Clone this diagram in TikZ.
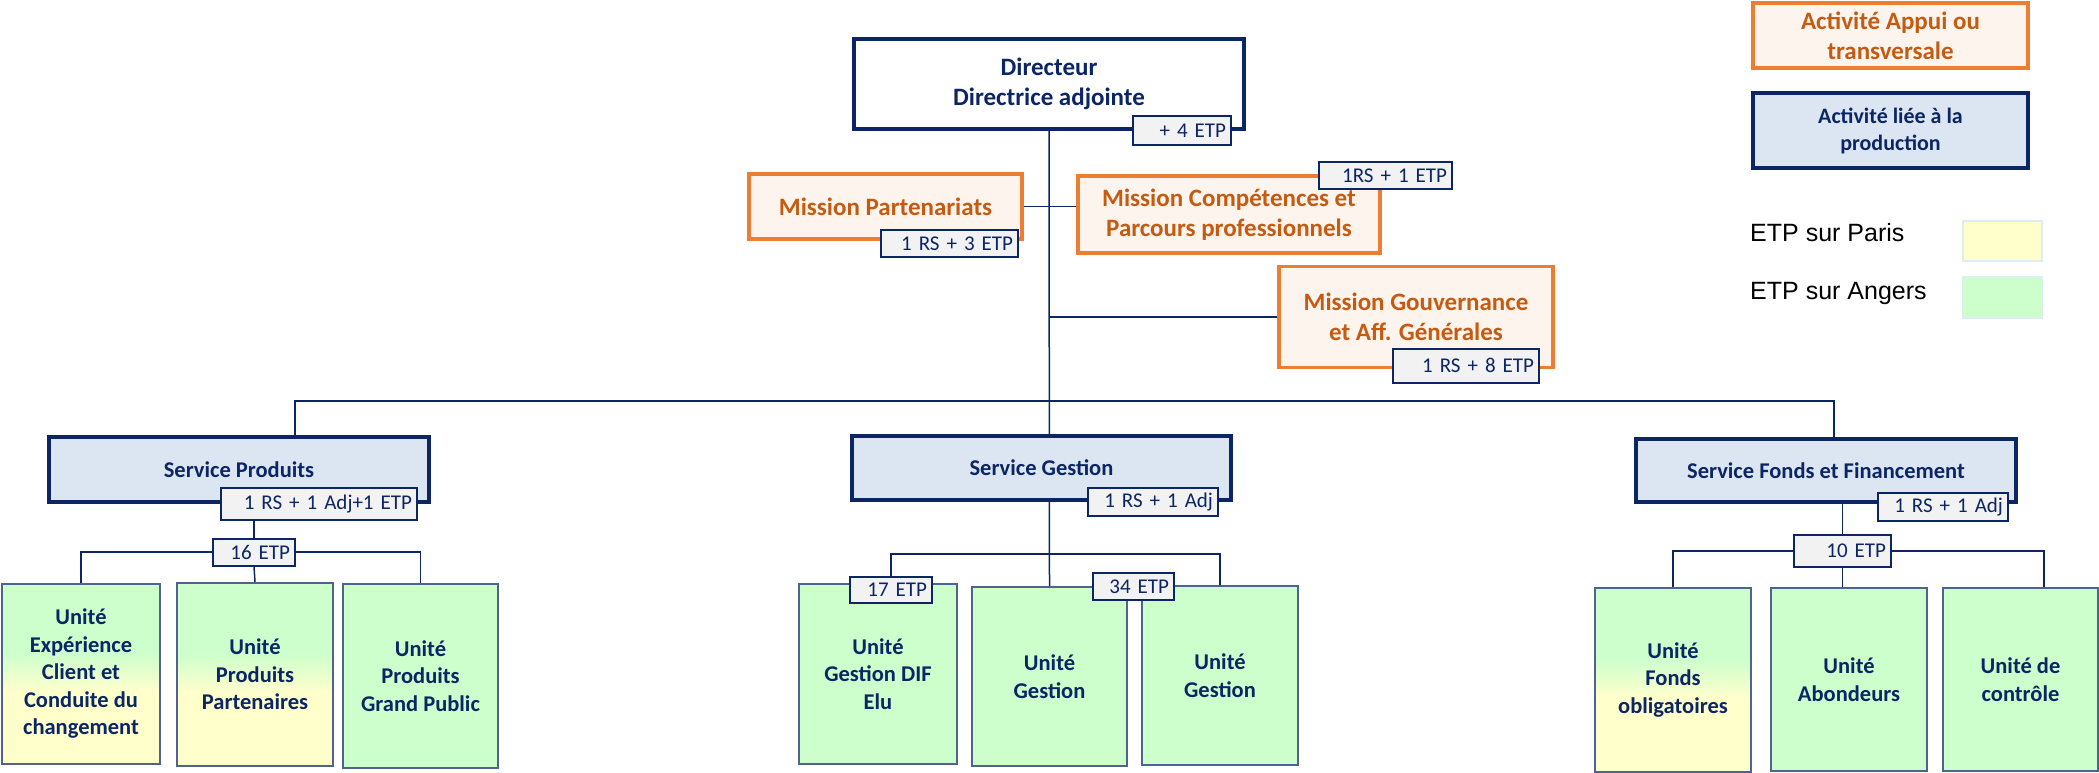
\documentclass[tikz,border=0pt]{standalone}
\usepackage{fontspec}
\setmainfont{Carlito}
\newfontfamily\legfont{Liberation Sans}
\usepackage{tikz}
\usetikzlibrary{positioning,backgrounds}
\definecolor{navy}{HTML}{0B2565}
\definecolor{orangeb}{HTML}{ED7D31}
\definecolor{oranget}{HTML}{C55A11}
\definecolor{orangef}{HTML}{FDF4EE}
\definecolor{bluef}{HTML}{DCE6F2}
\definecolor{tagf}{HTML}{F2F2F2}
\definecolor{greenf}{HTML}{CCFFCC}
\definecolor{yellowf}{HTML}{FFFFCC}
\definecolor{unitb}{HTML}{4F6290}
\definecolor{swatchb}{HTML}{DDEEEE}
\pgfdeclareverticalshading{parisangers}{100bp}{color(0bp)=(yellowf); color(45bp)=(yellowf); color(56bp)=(greenf); color(100bp)=(greenf)}

\begin{document}
\begin{tikzpicture}[x=1pt, y=-1pt,
  chef/.style    = {rectangle, draw=navy, line width=4, fill=white, text=navy,
                    align=center, font=\bfseries\fontsize{25}{30}\selectfont},
  mission/.style = {rectangle, draw=orangeb, line width=3.5, fill=orangef, text=oranget,
                    align=center, font=\bfseries\fontsize{25}{30}\selectfont},
  service/.style = {rectangle, draw=navy, line width=4.5, fill=bluef, text=navy,
                    align=center, font=\bfseries\fontsize{22.5}{27}\selectfont},
  unite/.style   = {rectangle, draw=unitb, line width=1.8, fill=greenf, text=navy,
                    align=center, font=\bfseries\fontsize{22.5}{27.5}\selectfont},
  mixte/.style   = {unite, shade, shading=parisangers},
  tag/.style     = {rectangle, draw=navy, line width=2, fill=tagf, text=navy, align=right,
                    inner xsep=5, inner ysep=0, font=\fontsize{21}{21}\selectfont},
  legende/.style = {font=\legfont\fontsize{25}{30}\selectfont, anchor=west, inner sep=0},
  swatch/.style  = {rectangle, draw=swatchb, line width=1.5, minimum width=79, minimum height=40},
  lien/.style    = {draw=navy, line width=1.5},
]
  \useasboundingbox (0,0) rectangle (2099,773);

  % direction et missions
  \node[chef, minimum width=390, minimum height=90] (dir) at (1049,84)
    {Directeur\\Directrice adjointe};
  \node[tag, text width=88, minimum height=29] (tdir) at (1182,130.5) {+ 4 ETP};

  \node[mission, minimum width=273, minimum height=65] (mpart) at (885.5,206.5)
    {Mission Partenariats};
  \node[tag, text width=127, minimum height=27] (tpart) at (949.5,243.5) {1 RS + 3 ETP};
  \node[mission, minimum width=302, minimum height=77] (mcomp) at (1229,214.5)
    {Mission Compétences et\\Parcours professionnels};
  \node[tag, text width=123, minimum height=27] (tcomp) at (1385.5,175.5) {1RS + 1 ETP};
  \node[mission, minimum width=274, minimum height=101] (mgouv) at (1416,317)
    {Mission Gouvernance\\et Aff. Générales};
  \node[tag, text width=136, minimum height=34] (tgouv) at (1466,365.5) {1 RS + 8 ETP};

  % service produits
  \node[service, minimum width=380, minimum height=65] (sprod) at (239,469.5) {Service Produits};
  \node[tag, text width=186, minimum height=32] (tprod) at (319,504) {1 RS + 1 Adj+1 ETP};
  \node[tag, text width=72, minimum height=27] (t16) at (254,552) {16 ETP};
  \node[mixte, minimum width=158, minimum height=180] (u1) at (81,674)
    {Unité\\Expérience\\Client et\\Conduite du\\changement};
  \node[mixte, minimum width=156, minimum height=183] (u2) at (255,674.5)
    {Unité\\Produits\\Partenaires};
  \node[unite, minimum width=155, minimum height=184] (u3) at (420.5,676)
    {Unité\\Produits\\Grand Public};

  % service gestion
  \node[service, minimum width=379, minimum height=64] (sgest) at (1041.5,468) {Service Gestion};
  \node[tag, text width=120, minimum height=28] (tgest) at (1153,502) {1 RS + 1 Adj};
  \node[unite, minimum width=158, minimum height=180] (g1) at (878,674)
    {Unité\\Gestion DIF\\Elu};
  \node[unite, minimum width=155, minimum height=179] (g2) at (1049.5,676.5)
    {Unité\\Gestion};
  \node[unite, minimum width=156, minimum height=179] (g3) at (1220,675.5)
    {Unité\\Gestion};
  \node[tag, text width=72, minimum height=26] (t17) at (891,590) {17 ETP};
  \node[tag, text width=71, minimum height=27] (t34) at (1133.5,586.5) {34 ETP};

  % service fonds
  \node[service, minimum width=380, minimum height=63] (sfonds) at (1826,470.5)
    {Service Fonds et Financement};
  \node[tag, text width=120, minimum height=28] (tfonds) at (1943,507) {1 RS + 1 Adj};
  \node[tag, text width=87, minimum height=32] (t10) at (1842.5,551) {10 ETP};
  \node[mixte, minimum width=156, minimum height=184] (f1) at (1673,680)
    {Unité\\Fonds\\obligatoires};
  \node[unite, minimum width=156, minimum height=183] (f2) at (1849,679.5)
    {Unité\\Abondeurs};
  \node[unite, minimum width=155, minimum height=183] (f3) at (2020.5,679.5)
    {Unité de\\contrôle};

  % legende
  \node[mission, minimum width=275, minimum height=65] (lappui) at (1890.5,35.5)
    {Activité Appui ou\\transversale};
  \node[service, minimum width=275, minimum height=75, font=\bfseries\fontsize{22}{27}\selectfont]
    (lprod) at (1890.5,130.5) {Activité liée à la\\production};
  \node[legende] (lparis) at (1750,233) {ETP sur Paris};
  \node[swatch, fill=yellowf] (sparis) at (2002.5,241) {};
  \node[legende] (langers) at (1750,293) {ETP sur Angers};
  \node[swatch, fill=greenf, minimum height=41] (sangers) at (2002.5,297.5) {};

  \coordinate (bus) at (1049.5,401);
  \coordinate (gbar) at (1049.5,554);

  \begin{scope}[on background layer]
    \draw[lien] (dir.south) -- (g2.north);
    \draw[lien] (mpart.east) -- (mpart.east -| mcomp.west);
    \draw[lien] (dir.south |- mgouv.west) -- (mgouv.west);
    \draw[lien] ([xshift=56]sprod.north) |- (bus) -| ([xshift=8]sfonds.north);
    % produits
    \draw[lien] (t16.north) -- (t16.north |- tprod.south);
    \draw[lien] (u1.north) |- (t16.west);
    \draw[lien] (u3.north) |- (t16.east);
    \draw[lien] (t16.south) -- (u2.north);
    % gestion
    \draw[lien] (t17.north) |- (gbar) -| (g3.north);
    % fonds
    \draw[lien] (sfonds.south -| t10.north) -- (t10.north);
    \draw[lien] (f1.north) |- (t10.west);
    \draw[lien] (t10.east) -| ([xshift=23.5]f3.north);
    \draw[lien] (t10.south) -- (t10.south |- f2.north);
  \end{scope}
\end{tikzpicture}
\end{document}
